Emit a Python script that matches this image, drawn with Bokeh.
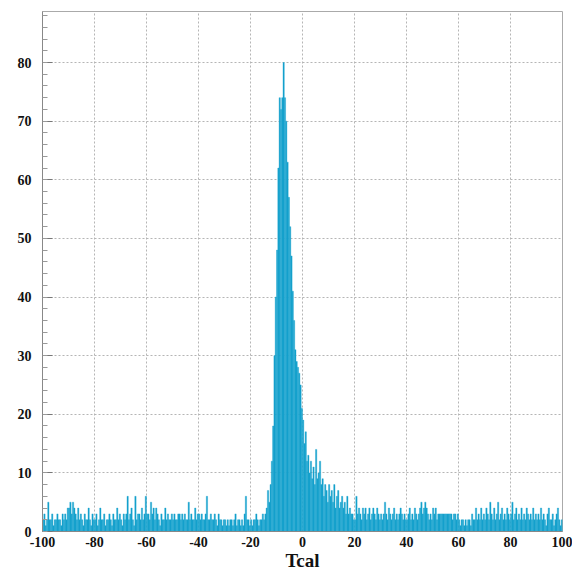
import numpy as np
from bokeh.plotting import figure
from bokeh.models import Range1d, FixedTicker, SingleIntervalTicker, ColumnDataSource
from bokeh.embed import file_html
from bokeh.resources import INLINE

# Histogram of Tcal: 400 bins of width 0.5 from -100 to 100
x_min = -100.0
x_max = 100.0
n_bins = 400

counts = [
    # -100 .. -90
    2, 3, 1, 2, 5, 2, 2, 3, 1, 2, 2, 3, 2, 2, 1, 3, 2, 3, 2, 4,
    # -90 .. -80
    4, 5, 3, 5, 4, 3, 2, 4, 2, 3, 2, 1, 3, 2, 2, 4, 2, 1, 3, 2,
    # -80 .. -70
    2, 3, 1, 2, 4, 2, 2, 3, 1, 2, 2, 3, 2, 1, 3, 2, 2, 4, 2, 3,
    # -70 .. -60
    2, 1, 3, 2, 3, 6, 2, 3, 4, 2, 1, 6, 2, 3, 3, 2, 4, 2, 3, 6,
    # -60 .. -50
    3, 3, 2, 5, 3, 4, 2, 4, 3, 2, 1, 3, 2, 2, 4, 2, 3, 2, 2, 3,
    # -50 .. -40
    2, 3, 2, 2, 3, 3, 2, 3, 2, 3, 2, 2, 5, 2, 3, 2, 2, 4, 2, 3,
    # -40 .. -30
    3, 2, 3, 2, 2, 3, 6, 2, 2, 3, 2, 2, 3, 2, 1, 3, 2, 2, 1, 2,
    # -30 .. -20
    2, 1, 2, 1, 2, 2, 1, 2, 3, 1, 2, 2, 1, 2, 1, 3, 6, 2, 2, 1,
    # -20 .. -10
    2, 1, 2, 2, 3, 2, 1, 2, 2, 3, 2, 3, 4, 7, 5, 8, 12, 18, 30, 40,
    # -10 .. 0
    48, 62, 74, 72, 74, 80, 74, 70, 63, 57, 52, 47, 41, 36, 31, 29, 28, 27, 25, 21,
    # 0 .. 10
    19, 15, 17, 12, 13, 10, 12, 9, 11, 8, 14, 9, 10, 12, 8, 9, 6, 8, 7, 5,
    # 10 .. 20
    8, 6, 7, 5, 8, 4, 6, 7, 4, 5, 6, 4, 5, 3, 6, 3, 4, 3, 3, 2,
    # 20 .. 30
    2, 6, 3, 4, 3, 2, 4, 3, 4, 2, 3, 4, 2, 3, 4, 3, 2, 4, 3, 2,
    # 30 .. 40
    3, 2, 3, 5, 3, 2, 4, 3, 2, 3, 4, 2, 3, 2, 3, 4, 3, 2, 3, 2,
    # 40 .. 50
    2, 3, 4, 2, 3, 2, 4, 3, 2, 3, 4, 5, 3, 4, 5, 4, 3, 2, 3, 2,
    # 50 .. 60
    4, 3, 4, 2, 3, 3, 3, 3, 3, 3, 3, 3, 3, 3, 3, 2, 3, 3, 2, 3,
    # 60 .. 70
    2, 1, 2, 2, 1, 2, 1, 2, 2, 1, 3, 2, 2, 4, 2, 3, 2, 4, 2, 3,
    # 70 .. 80
    2, 4, 3, 2, 5, 3, 2, 4, 2, 3, 5, 2, 3, 4, 2, 3, 2, 4, 3, 2,
    # 80 .. 90
    3, 5, 2, 3, 4, 2, 3, 2, 4, 2, 3, 2, 4, 3, 2, 3, 2, 4, 2, 3,
    # 90 .. 100
    2, 3, 2, 4, 2, 3, 2, 1, 3, 4, 2, 2, 3, 1, 2, 3, 4, 2, 1, 2,
]

x_ticks = [-100, -80, -60, -40, -20, 0, 20, 40, 60, 80, 100]
x_tick_labels = ["-100", "-80", "-60", "-40", "-20", "0", "20", "40", "60", "80", "100"]
x_label = "Tcal"

edges = np.linspace(x_min, x_max, n_bins + 1)
src = ColumnDataSource(dict(left=edges[:-1], right=edges[1:],
                            top=counts, bottom=[0] * len(counts)))

p = figure(width=572, height=573, output_backend="svg", toolbar_location=None,
           x_range=Range1d(x_min, x_max), y_range=Range1d(0, 88.7),
           min_border_left=42, min_border_right=10, min_border_top=11,
           min_border_bottom=42)

p.background_fill_color = "white"
p.border_fill_color = "white"
p.outline_line_color = "#aaaaaa"
p.outline_line_width = 1

p.quad(left="left", right="right", top="top", bottom="bottom", source=src,
       fill_color="#0e9ecb", line_color="#25a8d1", line_width=0.4)

font = "Liberation Serif"

# x axis
xa = p.xaxis[0]
xa.ticker = FixedTicker(ticks=x_ticks)
xa.major_label_overrides = {t: s for t, s in zip(x_ticks, x_tick_labels)}
xa.axis_label = x_label
xa.axis_label_text_font = font
xa.axis_label_text_font_style = "bold"
xa.axis_label_text_font_size = "19px"
xa.axis_label_text_color = "#111111"
xa.axis_label_standoff = 0
xa.major_label_text_font = font
xa.major_label_text_font_style = "bold"
xa.major_label_text_font_size = "14px"
xa.major_label_text_color = "#111111"
xa.major_label_standoff = 5
xa.major_tick_in = 0
xa.major_tick_out = 0
xa.minor_tick_in = 0
xa.minor_tick_out = 0
xa.axis_line_color = "#888888"

# y axis
ya = p.yaxis[0]
ya.ticker = SingleIntervalTicker(interval=10, num_minor_ticks=5)
ya.major_label_text_font = font
ya.major_label_text_font_style = "bold"
ya.major_label_text_font_size = "14px"
ya.major_label_text_color = "#111111"
ya.major_label_standoff = 11
ya.major_tick_in = 10
ya.major_tick_out = 0
ya.minor_tick_in = 5
ya.minor_tick_out = 0
ya.major_tick_line_color = "#777777"
ya.minor_tick_line_color = "#999999"
ya.axis_line_color = "#888888"

# grid
for g in (p.xgrid[0], p.ygrid[0]):
    g.grid_line_color = "#b5b5b5"
    g.grid_line_dash = "2 2"
    g.grid_line_width = 1
p.xgrid[0].ticker = FixedTicker(ticks=x_ticks)

open("out.html", "w").write(file_html(p, INLINE))
